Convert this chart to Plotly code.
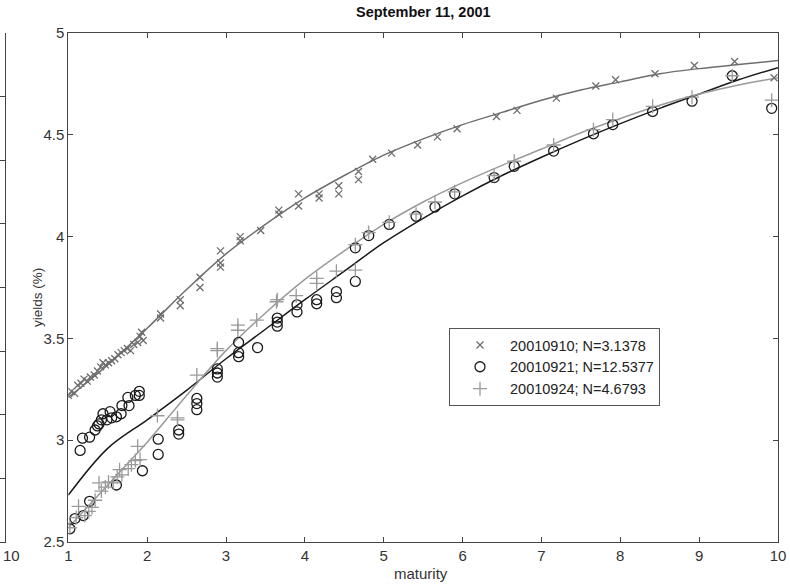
import plotly.graph_objects as go

# ---------------- data ----------------
series_names = ["20010910; N=3.1378", "20010921; N=12.5377", "20010924; N=4.6793"]

mat_0910 = [1.00, 1.04, 1.08, 1.12, 1.16, 1.20, 1.24, 1.28, 1.33, 1.37, 1.41, 1.44, 1.47, 1.51,
            1.55, 1.59, 1.63, 1.67, 1.71, 1.75, 1.79, 1.83, 1.88, 1.91, 1.93, 1.95, 2.17, 2.17,
            2.42, 2.42, 2.67, 2.67, 2.93, 2.93, 2.93, 3.18, 3.18, 3.44, 3.67, 3.67, 3.92, 3.92,
            4.18, 4.18, 4.43, 4.43, 4.68, 4.68, 4.86, 5.10, 5.43, 5.68, 5.93, 6.43, 6.69, 7.19,
            7.69, 7.94, 8.44, 8.94, 9.45, 9.95]
yld_0910 = [3.22, 3.24, 3.23, 3.27, 3.28, 3.30, 3.29, 3.31, 3.32, 3.34, 3.36, 3.38, 3.37, 3.38,
            3.39, 3.40, 3.42, 3.43, 3.44, 3.45, 3.44, 3.47, 3.48, 3.51, 3.53, 3.49, 3.62, 3.60,
            3.69, 3.66, 3.80, 3.75, 3.87, 3.85, 3.93, 3.98, 4.00, 4.03, 4.11, 4.13, 4.15, 4.21,
            4.21, 4.19, 4.25, 4.21, 4.32, 4.28, 4.38, 4.41, 4.45, 4.49, 4.53, 4.59, 4.62, 4.68,
            4.74, 4.77, 4.80, 4.84, 4.86, 4.78]

mat_0921 = [1.02, 1.085, 1.19, 1.27, 1.15, 1.18, 1.27, 1.34, 1.37, 1.39, 1.42, 1.44, 1.49, 1.53,
            1.55, 1.61, 1.61, 1.67, 1.68, 1.755, 1.77, 1.85, 1.90, 1.90, 1.94, 2.14, 2.14, 2.40,
            2.40, 2.63, 2.63, 2.63, 2.89, 2.89, 2.89, 3.16, 3.16, 3.16, 3.40, 3.65, 3.65, 3.65,
            3.90, 3.90, 4.15, 4.15, 4.40, 4.40, 4.64, 4.64, 4.81, 5.07, 5.41, 5.65, 5.90, 6.40,
            6.655, 7.155, 7.66, 7.905, 8.41, 8.91, 9.42, 9.92]
yld_0921 = [2.565, 2.615, 2.63, 2.70, 2.95, 3.01, 3.015, 3.05, 3.07, 3.08, 3.10, 3.13, 3.10, 3.14,
            3.11, 2.78, 3.115, 3.13, 3.17, 3.21, 3.17, 3.22, 3.24, 3.22, 2.85, 3.005, 2.93, 3.05,
            3.03, 3.205, 3.18, 3.15, 3.35, 3.33, 3.31, 3.48, 3.43, 3.41, 3.455, 3.60, 3.58, 3.56,
            3.665, 3.63, 3.69, 3.67, 3.73, 3.70, 3.78, 3.945, 4.005, 4.06, 4.10, 4.145, 4.21, 4.29,
            4.345, 4.42, 4.505, 4.55, 4.615, 4.665, 4.79, 4.63]

mat_0924 = [1.02, 1.10, 1.13, 1.21, 1.26, 1.30, 1.34, 1.39, 1.42, 1.47, 1.51, 1.57, 1.62, 1.65,
            1.68, 1.76, 1.80, 1.85, 1.88, 1.91, 2.13, 2.385, 2.385, 2.63, 2.89, 2.89, 3.15, 3.15,
            3.39, 3.64, 3.65, 3.89, 4.15, 4.15, 4.40, 4.64, 4.64, 4.81, 5.07, 5.41, 5.65, 5.90,
            6.40, 6.655, 7.155, 7.66, 7.905, 8.41, 8.91, 9.42, 9.92]
yld_0924 = [2.57, 2.62, 2.675, 2.63, 2.65, 2.67, 2.705, 2.79, 2.75, 2.77, 2.795, 2.79, 2.82, 2.855,
            2.83, 2.86, 2.88, 2.90, 2.97, 2.905, 3.12, 3.10, 3.11, 3.32, 3.44, 3.45, 3.565, 3.54,
            3.59, 3.68, 3.69, 3.71, 3.77, 3.795, 3.83, 3.835, 3.96, 4.02, 4.07, 4.11, 4.17, 4.22,
            4.30, 4.37, 4.45, 4.525, 4.575, 4.64, 4.685, 4.79, 4.67]

# fitted curves
fit_mat = [1.0, 1.5, 2.0, 2.5, 3.0, 3.5, 4.0, 4.5, 5.0, 5.5, 6.0, 6.5, 7.0, 7.5, 8.0,
           8.5, 9.0, 9.5, 10.0]
fit_0910 = [3.21, 3.37, 3.55, 3.74, 3.915, 4.06, 4.19, 4.30, 4.40, 4.48, 4.55, 4.61, 4.67,
            4.72, 4.76, 4.80, 4.825, 4.845, 4.865]
fit_0921 = [2.73, 2.96, 3.10, 3.245, 3.40, 3.545, 3.69, 3.83, 3.97, 4.09, 4.20, 4.30, 4.39,
            4.475, 4.555, 4.63, 4.70, 4.77, 4.83]
fit_0924 = [2.57, 2.78, 2.99, 3.22, 3.44, 3.625, 3.79, 3.93, 4.06, 4.17, 4.265, 4.35, 4.43,
            4.51, 4.58, 4.645, 4.70, 4.745, 4.78]

x_ticks = [1, 2, 3, 4, 5, 6, 7, 8, 9, 10]
y_ticks = [2.5, 3, 3.5, 4, 4.5, 5]
y_tick_text = ["2.5", "3", "3.5", "4", "4.5", "5"]

# ---------------- figure ----------------
FONT = "Liberation Sans, Arial, sans-serif"
W, H = 790, 585
ML, MR, MT, MB = 0, 12, 33, 43
PW = W - ML - MR
PH = H - MT - MB
plot_left = 68.3

fig = go.Figure()

c1, c2, c3 = "#6e6e6e", "#1a1a1a", "#9a9a9a"

fig.add_trace(go.Scatter(x=fit_mat, y=fit_0910, mode="lines", line=dict(color=c1, width=1.5, shape="spline"),
                         showlegend=False, hoverinfo="skip"))
fig.add_trace(go.Scatter(x=fit_mat, y=fit_0921, mode="lines", line=dict(color=c2, width=1.5, shape="spline"),
                         showlegend=False, hoverinfo="skip"))
fig.add_trace(go.Scatter(x=fit_mat, y=fit_0924, mode="lines", line=dict(color=c3, width=1.5, shape="spline"),
                         showlegend=False, hoverinfo="skip"))

fig.add_trace(go.Scatter(x=mat_0910, y=yld_0910, mode="markers", name=series_names[0],
                         marker=dict(symbol="x-thin-open", size=7, color=c1, line=dict(color=c1, width=1.3))))
fig.add_trace(go.Scatter(x=mat_0921, y=yld_0921, mode="markers", name=series_names[1],
                         marker=dict(symbol="circle-open", size=10, color=c2, line=dict(color=c2, width=1.3))))
fig.add_trace(go.Scatter(x=mat_0924, y=yld_0924, mode="markers", name=series_names[2],
                         marker=dict(symbol="cross-thin-open", size=10, color=c3, line=dict(color=c3, width=1.3))))

# partial neighbouring panel at the left edge
fig.add_trace(go.Scatter(x=[], y=[], xaxis="x2", yaxis="y2", showlegend=False))

axis_common = dict(showline=True, linecolor="#444", linewidth=1, mirror="ticks", ticks="inside",
                   ticklen=5, tickcolor="#444", showgrid=False, zeroline=False, automargin=False,
                   tickfont=dict(family=FONT, size=15, color="#333"))

fig.update_layout(
    width=W, height=H,
    margin=dict(l=ML, r=MR, t=MT, b=MB, autoexpand=False),
    paper_bgcolor="white", plot_bgcolor="white",
    font=dict(family=FONT, color="#222"),
    xaxis=dict(domain=[plot_left / PW, 1], range=[1, 10], tickvals=x_ticks, **axis_common),
    yaxis=dict(range=[2.5, 5], tickvals=y_ticks, ticktext=y_tick_text, **axis_common),
    xaxis2=dict(domain=[0, 4.5 / PW], range=[9, 10], anchor="y2", showticklabels=False,
                showline=True, linecolor="#444", ticks="", showgrid=False, zeroline=False,
                automargin=False),
    yaxis2=dict(anchor="x2", side="right", range=[0, 8], dtick=1, ticks="inside", ticklen=5,
                tickcolor="#444", showline=True, linecolor="#444", showticklabels=False,
                showgrid=False, zeroline=False, automargin=False),
    legend=dict(x=(449 - ML) / PW, y=1 - (328 - MT) / PH, xanchor="left", yanchor="top",
                bgcolor="white", bordercolor="#555", borderwidth=1,
                font=dict(family=FONT, size=14.5, color="#222"), itemwidth=50,
                tracegroupgap=0),
    annotations=[
        dict(text="<b>September 11, 2001</b>", x=(423 - ML) / PW, y=1 + (MT - 12) / PH,
             xref="paper", yref="paper", showarrow=False, xanchor="center", yanchor="middle",
             font=dict(family=FONT, size=14.5, color="#111")),
        dict(text="maturity", x=(421 - ML) / PW, y=-(573 - MT - PH) / PH,
             xref="paper", yref="paper", showarrow=False, xanchor="center", yanchor="middle",
             font=dict(family=FONT, size=15, color="#333")),
        dict(text="yields (%)", x=(37 - ML) / PW, y=1 - (298 - MT) / PH, textangle=-90,
             xref="paper", yref="paper", showarrow=False, xanchor="center", yanchor="middle",
             font=dict(family=FONT, size=13.5, color="#333")),
        dict(text="10", x=1 / PW, y=-(555 - MT - PH) / PH,
             xref="paper", yref="paper", showarrow=False, xanchor="left", yanchor="middle",
             font=dict(family=FONT, size=15, color="#333")),
    ],
)

fig.write_html("out.html", config={"displayModeBar": False},
               post_script="document.body.style.margin='0';document.body.style.padding='0';")
